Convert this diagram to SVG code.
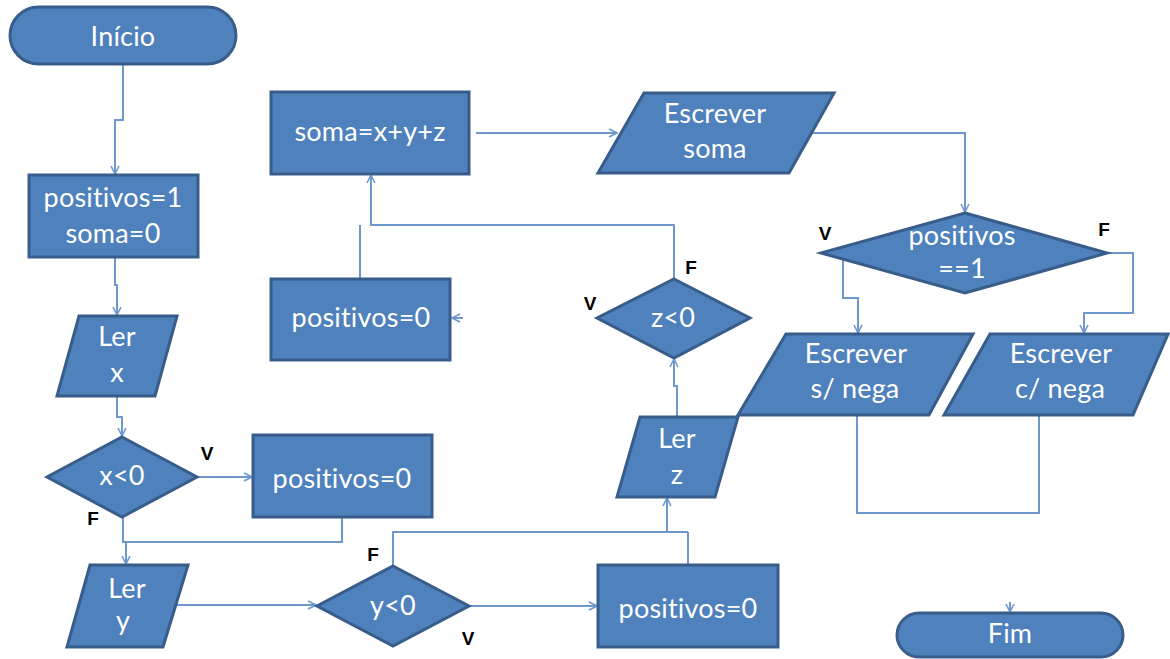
<svg xmlns="http://www.w3.org/2000/svg" width="1170" height="659" viewBox="0 0 1170 659">
<style>
.s{fill:#4F81BD;stroke:#385D8A;stroke-width:3;stroke-linejoin:miter}
.t{font-family:Lato,"Open Sans",sans-serif;font-size:27px;fill:#fff;text-anchor:middle;font-variant-ligatures:none;font-feature-settings:"liga" 0;letter-spacing:0.2px}
.l{font-family:"Liberation Sans",Arial,sans-serif;font-size:19px;font-weight:bold;fill:#000;text-anchor:middle}
.c{fill:none;stroke:#6E98CE;stroke-width:2;marker-end:url(#a)}
.n{fill:none;stroke:#6E98CE;stroke-width:2}
</style>
<defs>
<marker id="a" viewBox="0 0 10 10" refX="9" refY="5" markerWidth="5" markerHeight="5" orient="auto" markerUnits="strokeWidth">
<path d="M1,1 L9,5 L1,9" fill="none" stroke="#6E98CE" stroke-width="1.6"/>
</marker>
</defs>
<rect width="1170" height="659" fill="#fff"/>
<g id="connectors">
<path class="c" d="M123,64 V120 H115 V174"/>
<path class="c" d="M115,257 V285 H117 V315"/>
<path class="c" d="M117,396 V417 H122 V436"/>
<path class="c" d="M197,477 H252"/>
<path class="c" d="M123,517 V542 H126 V564"/>
<path class="n" d="M342,517 V542 H123"/>
<path class="c" d="M177,605 H316"/>
<path class="n" d="M393,566 V532 H688"/>
<path class="c" d="M467,606 H597"/>
<path class="n" d="M688,565 V532"/>
<path class="c" d="M667,532 V498"/>
<path class="c" d="M677,417 V386 H674 V359"/>
<path class="c" d="M674,279 V225 H371 V175"/>
<path class="n" d="M360,279 V225"/>
<path class="c" d="M463,318 H452"/>
<path class="c" d="M476,133 H617"/>
<path class="c" d="M810,133 H965 V212"/>
<path class="c" d="M843,260 V298 H858 V333"/>
<path class="c" d="M1107,253 H1133 V313 H1084 V333"/>
<path class="n" d="M857,415 V513 H1039 V415"/>
<path class="c" d="M1010,602 V612"/>
</g>
<g id="inicio"><rect class="s" x="10" y="7" width="226" height="57" rx="28.5"/><text class="t" x="123" y="46">Início</text></g>
<g id="init"><rect class="s" x="29" y="175" width="169" height="82"/><text class="t" x="113" y="207">positivos=1</text><text class="t" x="113" y="243">soma=0</text></g>
<g id="lerx"><polygon class="s" points="79,316 177,316 155,396 57,396"/><text class="t" x="117" y="346">Ler</text><text class="t" x="117" y="382">x</text></g>
<g id="dx"><polygon class="s" points="122,437 197,477 122,517 47,477"/><text class="t" x="122" y="485">x&lt;0</text></g>
<g id="p0a"><rect class="s" x="253" y="435" width="179" height="82"/><text class="t" x="342" y="488">positivos=0</text></g>
<g id="lery"><polygon class="s" points="90,565 188,565 163,647 67,647"/><text class="t" x="127" y="598">Ler</text><text class="t" x="123" y="630">y</text></g>
<g id="dy"><polygon class="s" points="393,566 469,606 393,646 317,606"/><text class="t" x="393" y="615">y&lt;0</text></g>
<g id="p0b"><rect class="s" x="598" y="565" width="180" height="82"/><text class="t" x="688" y="618">positivos=0</text></g>
<g id="lerz"><polygon class="s" points="640,417 738,417 715,497 617,497"/><text class="t" x="677" y="448">Ler</text><text class="t" x="677" y="484">z</text></g>
<g id="dz"><polygon class="s" points="674,279 750,318 674,358 597,318"/><text class="t" x="673" y="327">z&lt;0</text></g>
<g id="p0m"><rect class="s" x="271" y="279" width="179" height="81"/><text class="t" x="361" y="327">positivos=0</text></g>
<g id="soma"><rect class="s" x="271" y="92" width="198" height="82"/><text class="t" x="370" y="141">soma=x+y+z</text></g>
<g id="escsoma"><polygon class="s" points="644,93 834,93 789,173 598,173"/><text class="t" x="715" y="123">Escrever</text><text class="t" x="715" y="158">soma</text></g>
<g id="dpos"><polygon class="s" points="965,213 1107,253 965,293 821,253"/><text class="t" x="962" y="245">positivos</text><text class="t" x="962" y="278">==1</text></g>
<g id="escs"><polygon class="s" points="786,334 973,334 929,415 738,415"/><text class="t" x="856" y="363">Escrever</text><text class="t" x="855" y="398">s/ nega</text></g>
<g id="escc"><polygon class="s" points="990,334 1168,334 1133,415 944,415"/><text class="t" x="1061" y="363">Escrever</text><text class="t" x="1060" y="398">c/ nega</text></g>
<g id="fim"><rect class="s" x="897" y="613" width="226" height="44" rx="22"/><text class="t" x="1010" y="643">Fim</text></g>
<g id="labels">
<text class="l" x="207" y="460">V</text>
<text class="l" x="93" y="525">F</text>
<text class="l" x="373" y="561">F</text>
<text class="l" x="468" y="645">V</text>
<text class="l" x="590" y="310">V</text>
<text class="l" x="691" y="274">F</text>
<text class="l" x="825" y="240">V</text>
<text class="l" x="1104" y="236">F</text>
</g>
</svg>
